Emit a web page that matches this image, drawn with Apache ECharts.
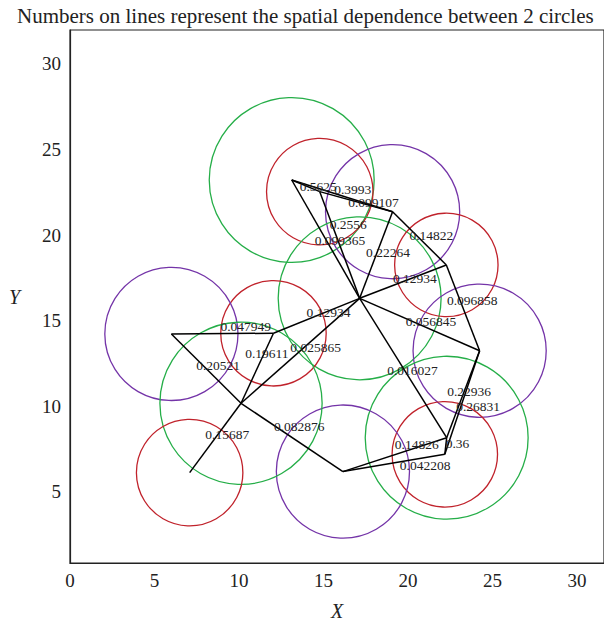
<!DOCTYPE html>
<html>
<head>
<meta charset="utf-8">
<script src="https://cdn.jsdelivr.net/npm/echarts@6/dist/echarts.min.js"></script>
<style>html,body{margin:0;padding:0;background:#fff;}#c{width:604px;height:626px;}</style>
</head>
<body>
<div id="c"></div>
<script>
// ---- data ----
const titleText = 'Numbers on lines represent the spatial dependence between 2 circles';
const xTickLabels = [0, 5, 10, 15, 20, 25, 30];
const yTickLabels = [5, 10, 15, 20, 25, 30];
// circle centres (nodes)
const nodeNames = ['A', 'N2', 'B', 'D', 'C', 'E', 'F', 'G', 'H', 'I', 'J', 'K', 'L'];
const nodeX = [13.12, 14.78, 19.09, 17.14, 22.27, 24.24, 22.29, 22.18, 16.15, 12.04, 6.00, 10.12, 7.08];
const nodeY = [23.22, 22.54, 21.37, 16.31, 18.26, 13.25, 8.17, 7.20, 6.19, 14.27, 14.23, 10.18, 6.13];
const nodeRadius = [4.88, 3.15, 3.97, 4.82, 3.06, 3.94, 4.82, 3.12, 3.94, 3.12, 3.94, 4.80, 3.15];
const nodeKind = ['green', 'red', 'purple', 'green', 'red', 'purple', 'green', 'red', 'purple', 'red', 'purple', 'green', 'red'];
// edges between circles with dependence values
const edgeFrom = ['A', 'A', 'N2', 'A', 'N2', 'B', 'B', 'C', 'D', 'D', 'D', 'C', 'D', 'E', 'E', 'F', 'F', 'G', 'H', 'J', 'J', 'I', 'K'];
const edgeTo   = ['N2', 'B', 'B', 'D', 'D', 'D', 'C', 'D', 'I', 'K', 'E', 'E', 'F', 'F', 'G', 'G', 'H', 'H', 'K', 'K', 'I', 'K', 'L'];
const edgeValue = ['0.5625', '0.3993', '0.099107', '0.099365', '0.2556', '0.22264', '0.14822', '0.12934', '0.12934', '0.025865', '0.056845', '0.096858', '0.016027', '0.22936', '0.26831', '0.36', '0.14826', '0.042208', '0.082876', '0.20521', '0.047949', '0.19611', '0.15687'];

// ---- styles ----
const kindColor = { green: '#25ae48', red: '#c0222b', purple: '#7434a8' };
const serif = '"Liberation Serif", "DejaVu Serif", serif';
const labelDx = -10, labelDy = -3;
// small pixel nudges for labels that would collide
const labelNudge = { 0: [4, 4], 1: [2, -3], 2: [2, 4], 3: [-1, 4], 4: [0, -17], 13: [-6, 0], 14: [4, 7], 15: [10, 0], 16: [10, -7], 17: [16, 6], 18: [-8, -8], 20: [8, -4], 21: [-2, -12], 10: [-4, 0], 11: [-6, -4], 12: [-6, 5] };

const circleData = nodeNames.map((n, i) => [nodeX[i], nodeY[i], nodeRadius[i], i]);
const idx = n => nodeNames.indexOf(n);
const edgeData = edgeFrom.map((f, i) => {
  const a = idx(f), b = idx(edgeTo[i]);
  return [nodeX[a], nodeY[a], nodeX[b], nodeY[b], i];
});

const chart = echarts.init(document.getElementById('c'), null, { renderer: 'svg' });
chart.setOption({
  animation: false,
  backgroundColor: '#fff',
  title: {
    text: titleText, left: 12, top: 0,
    textStyle: { fontFamily: serif, fontSize: 21, fontWeight: 'normal', color: '#222' }
  },
  grid: { left: 70, right: -3, top: 30, bottom: 63, show: true, borderColor: '#222', borderWidth: 1.2 },
  xAxis: {
    type: 'value', min: 0, max: 31.6,
    name: 'X', nameLocation: 'middle', nameGap: 38,
    nameTextStyle: { fontFamily: serif, fontSize: 20, fontStyle: 'italic', color: '#222' },
    axisLine: { show: true, onZero: false, lineStyle: { color: '#222', width: 1.2 } },
    axisTick: { show: false },
    splitLine: { show: false },
    axisLabel: { customValues: xTickLabels, margin: 8, fontFamily: serif, fontSize: 19, color: '#222' }
  },
  yAxis: {
    type: 'value', min: 0.853, max: 31.98,
    name: 'Y', nameLocation: 'middle', nameGap: 50, nameRotate: 0,
    nameTextStyle: { fontFamily: serif, fontSize: 20, fontStyle: 'italic', color: '#222' },
    axisLine: { show: true, onZero: false, lineStyle: { color: '#222', width: 1.2 } },
    axisTick: { show: false },
    splitLine: { show: false },
    axisLabel: { customValues: yTickLabels, margin: 9, fontFamily: serif, fontSize: 19, color: '#222' }
  },
  series: [
    {
      type: 'custom',
      data: circleData,
      clip: false,
      renderItem: function (params, api) {
        const c = api.coord([api.value(0), api.value(1)]);
        const r = api.size([api.value(2), 0])[0];
        const col = kindColor[nodeKind[api.value(3)]];
        return { type: 'circle', shape: { cx: c[0], cy: c[1], r: r }, style: { fill: 'none', stroke: col, lineWidth: 1.3 } };
      }
    },
    {
      type: 'custom',
      data: edgeData,
      clip: false,
      z: 3,
      renderItem: function (params, api) {
        const p1 = api.coord([api.value(0), api.value(1)]);
        const p2 = api.coord([api.value(2), api.value(3)]);
        const i = api.value(4);
        const nd = labelNudge[i] || [0, 0];
        const mx = (p1[0] + p2[0]) / 2 + labelDx + nd[0];
        const my = (p1[1] + p2[1]) / 2 + labelDy + nd[1];
        return {
          type: 'group',
          children: [
            { type: 'line', shape: { x1: p1[0], y1: p1[1], x2: p2[0], y2: p2[1] }, style: { stroke: '#000', lineWidth: 1.5 } },
            { type: 'text', z2: 5, style: { text: edgeValue[i], x: mx, y: my, align: 'left', verticalAlign: 'middle', font: '13.5px ' + serif, fill: '#222' } }
          ]
        };
      }
    }
  ]
});
</script>
</body>
</html>
